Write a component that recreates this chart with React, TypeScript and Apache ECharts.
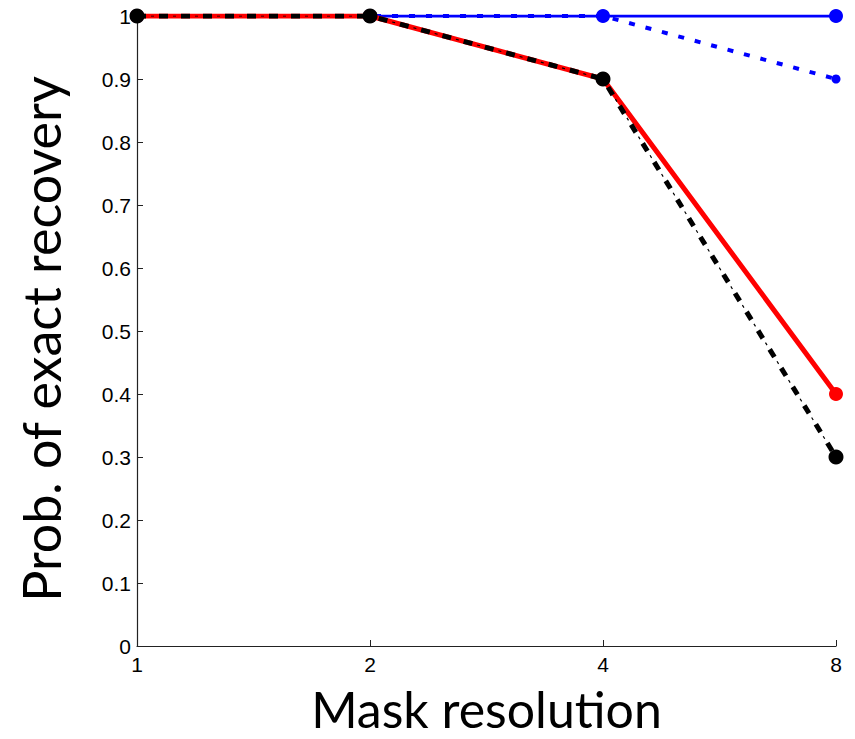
import React, { useEffect, useRef } from "react";
import * as echarts from "echarts";

const categories = ["1", "2", "4", "8"];
const blueSolid = [1, 1, 1, 1];
const blueDashed = [1, 1, 1, 0.9];
const redSolid = [1, 1, 0.9, 0.4];
const blackDashDot = [1, 1, 0.9, 0.3];

export default function App() {
  const ref = useRef<HTMLDivElement>(null);
  useEffect(() => {
    if (!ref.current) return;
    const chart = echarts.init(ref.current, null, { renderer: "svg" });
    const tickFont = { fontFamily: "Liberation Sans", fontSize: 21, color: "#000" };
    chart.setOption({
      animation: false,
      backgroundColor: "#fff",
      grid: {
        left: 137,
        right: 19,
        top: 16,
        bottom: 93,
        containLabel: false,
        outerBoundsMode: "none",
      },
      xAxis: {
        type: "category",
        data: categories,
        boundaryGap: false,
        name: "Mask resolution",
        nameLocation: "middle",
        nameGap: 39,
        nameTextStyle: { fontFamily: "Lato", fontSize: 50, color: "#000", lineHeight: 48 },
        axisLine: { lineStyle: { color: "#222", width: 1.2 } },
        axisTick: { inside: true, length: 6, lineStyle: { color: "#222" } },
        axisLabel: { ...tickFont, margin: 8 },
        splitLine: { show: false },
      },
      yAxis: {
        type: "value",
        min: 0,
        max: 1,
        interval: 0.1,
        name: "Prob. of exact recovery",
        nameLocation: "middle",
        nameGap: 70,
        nameRotate: 90,
        nameTextStyle: {
          fontFamily: "Lato",
          fontSize: 52,
          color: "#000",
          padding: [0, 16, 0, 0],
        },
        axisLine: { show: true, lineStyle: { color: "#222", width: 1.2 } },
        axisTick: { show: true, inside: true, length: 6, lineStyle: { color: "#222" } },
        axisLabel: { ...tickFont, margin: 6 },
        splitLine: { show: false },
      },
      series: [
        {
          type: "line",
          data: blueSolid,
          symbol: "circle",
          symbolSize: 14,
          itemStyle: { color: "#0000ff" },
          lineStyle: { color: "#0000ff", width: 3 },
          z: 2,
        },
        {
          type: "line",
          data: blueDashed,
          symbol: "circle",
          symbolSize: 9,
          itemStyle: { color: "#0000ff" },
          lineStyle: { color: "#0000ff", width: 4, type: [6, 11] },
          z: 3,
        },
        {
          type: "line",
          data: redSolid,
          symbol: "circle",
          symbolSize: 14,
          itemStyle: { color: "#ff0000" },
          lineStyle: { color: "#ff0000", width: 5 },
          z: 4,
        },
        {
          type: "line",
          data: blackDashDot,
          symbol: "none",
          lineStyle: { color: "#000", width: 1.2, type: [3, 19], dashOffset: 8 },
          z: 5,
          silent: true,
        },
        {
          type: "line",
          data: blackDashDot,
          symbol: "circle",
          symbolSize: 15,
          itemStyle: { color: "#000" },
          lineStyle: { color: "#000", width: 5, type: [9, 13] },
          z: 6,
        },
      ],
    });
    return () => chart.dispose();
  }, []);
  return (
    <div
      ref={ref}
      style={{ position: "fixed", left: 0, top: 0, width: 855, height: 739 }}
    />
  );
}
